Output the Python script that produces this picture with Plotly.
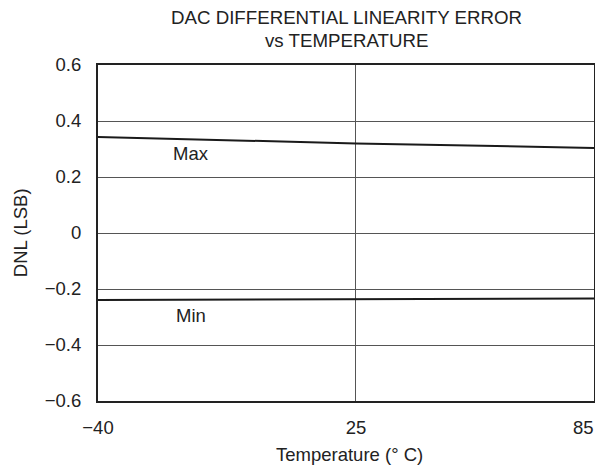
import plotly.graph_objects as go

temperature = [-40, 25, 85]
dnl_max = [0.343, 0.320, 0.304]
dnl_min = [-0.239, -0.236, -0.234]
x_ticks = [-40, 25, 85]
x_tick_labels = ["\u221240", "25", "85"]
y_ticks = [0.6, 0.4, 0.2, 0, -0.2, -0.4, -0.6]
y_tick_labels = ["0.6", "0.4", "0.2", "0", "\u22120.2", "\u22120.4", "\u22120.6"]

FONT = "Arial, Liberation Sans, sans-serif"
TXT = "#222"
FS = 18.5

fig = go.Figure()
fig.add_trace(go.Scatter(x=temperature, y=dnl_max, mode="lines",
                         line=dict(color="#1a1a1a", width=2), showlegend=False))
fig.add_trace(go.Scatter(x=temperature, y=dnl_min, mode="lines",
                         line=dict(color="#1a1a1a", width=2), showlegend=False))

fig.add_annotation(x=-16.6, y=0.284, text="Max", showarrow=False,
                   font=dict(size=FS, color=TXT))
fig.add_annotation(x=-16.6, y=-0.293, text="Min", showarrow=False,
                   font=dict(size=FS, color=TXT))

# title lines
fig.add_annotation(xref="paper", yref="paper", x=0.5, y=1.140,
                   text="DAC DIFFERENTIAL LINEARITY ERROR", showarrow=False,
                   xanchor="center", yanchor="middle", borderpad=0,
                   font=dict(size=18.7, color=TXT))
fig.add_annotation(xref="paper", yref="paper", x=0.5, y=1.0744,
                   text="vs TEMPERATURE", showarrow=False,
                   xanchor="center", yanchor="middle", borderpad=0,
                   font=dict(size=18.7, color=TXT))
# axis titles
fig.add_annotation(xref="paper", yref="paper", x=0.508, y=-0.1607,
                   text="Temperature (\u00b0 C)", showarrow=False,
                   xanchor="center", yanchor="middle", borderpad=0,
                   font=dict(size=FS, color=TXT))
fig.add_annotation(xref="paper", yref="paper", x=-0.157, y=0.5,
                   text="DNL (LSB)", showarrow=False, textangle=-90,
                   xanchor="center", yanchor="middle", font=dict(size=FS, color=TXT))

# last x tick label sits against the right edge of the page; anchor it to the right
last_label = x_tick_labels[-1]
axis_labels = x_tick_labels[:-1] + [""]
fig.add_annotation(xref="x", yref="paper", x=x_ticks[-1], y=-0.0774,
                   text=last_label, showarrow=False, xanchor="right", yanchor="middle",
                   xshift=1, borderpad=0, font=dict(size=FS, color=TXT))

fig.update_layout(
    width=595, height=460,
    margin=dict(l=90, r=9, t=57, b=67, autoexpand=False),
    paper_bgcolor="white", plot_bgcolor="white",
    font=dict(family=FONT, size=FS, color=TXT),
)
fig.update_xaxes(range=[-40, 85], tickvals=x_ticks, ticktext=axis_labels,
                 showgrid=True, gridcolor="#555", gridwidth=1,
                 showline=True, linecolor="#222", linewidth=2, mirror=True,
                 ticks="", ticklabelstandoff=9, zeroline=False, automargin=False,
                 ticklabeloverflow="allow", tickfont=dict(size=FS))
fig.update_yaxes(range=[-0.6, 0.6], tickvals=y_ticks, ticktext=y_tick_labels,
                 showgrid=True, gridcolor="#555", gridwidth=1,
                 showline=True, linecolor="#222", linewidth=2, mirror=True,
                 ticks="", ticklabelstandoff=11, zeroline=False, automargin=False,
                 ticklabeloverflow="allow", tickfont=dict(size=FS))

fig.write_html("out.html")
